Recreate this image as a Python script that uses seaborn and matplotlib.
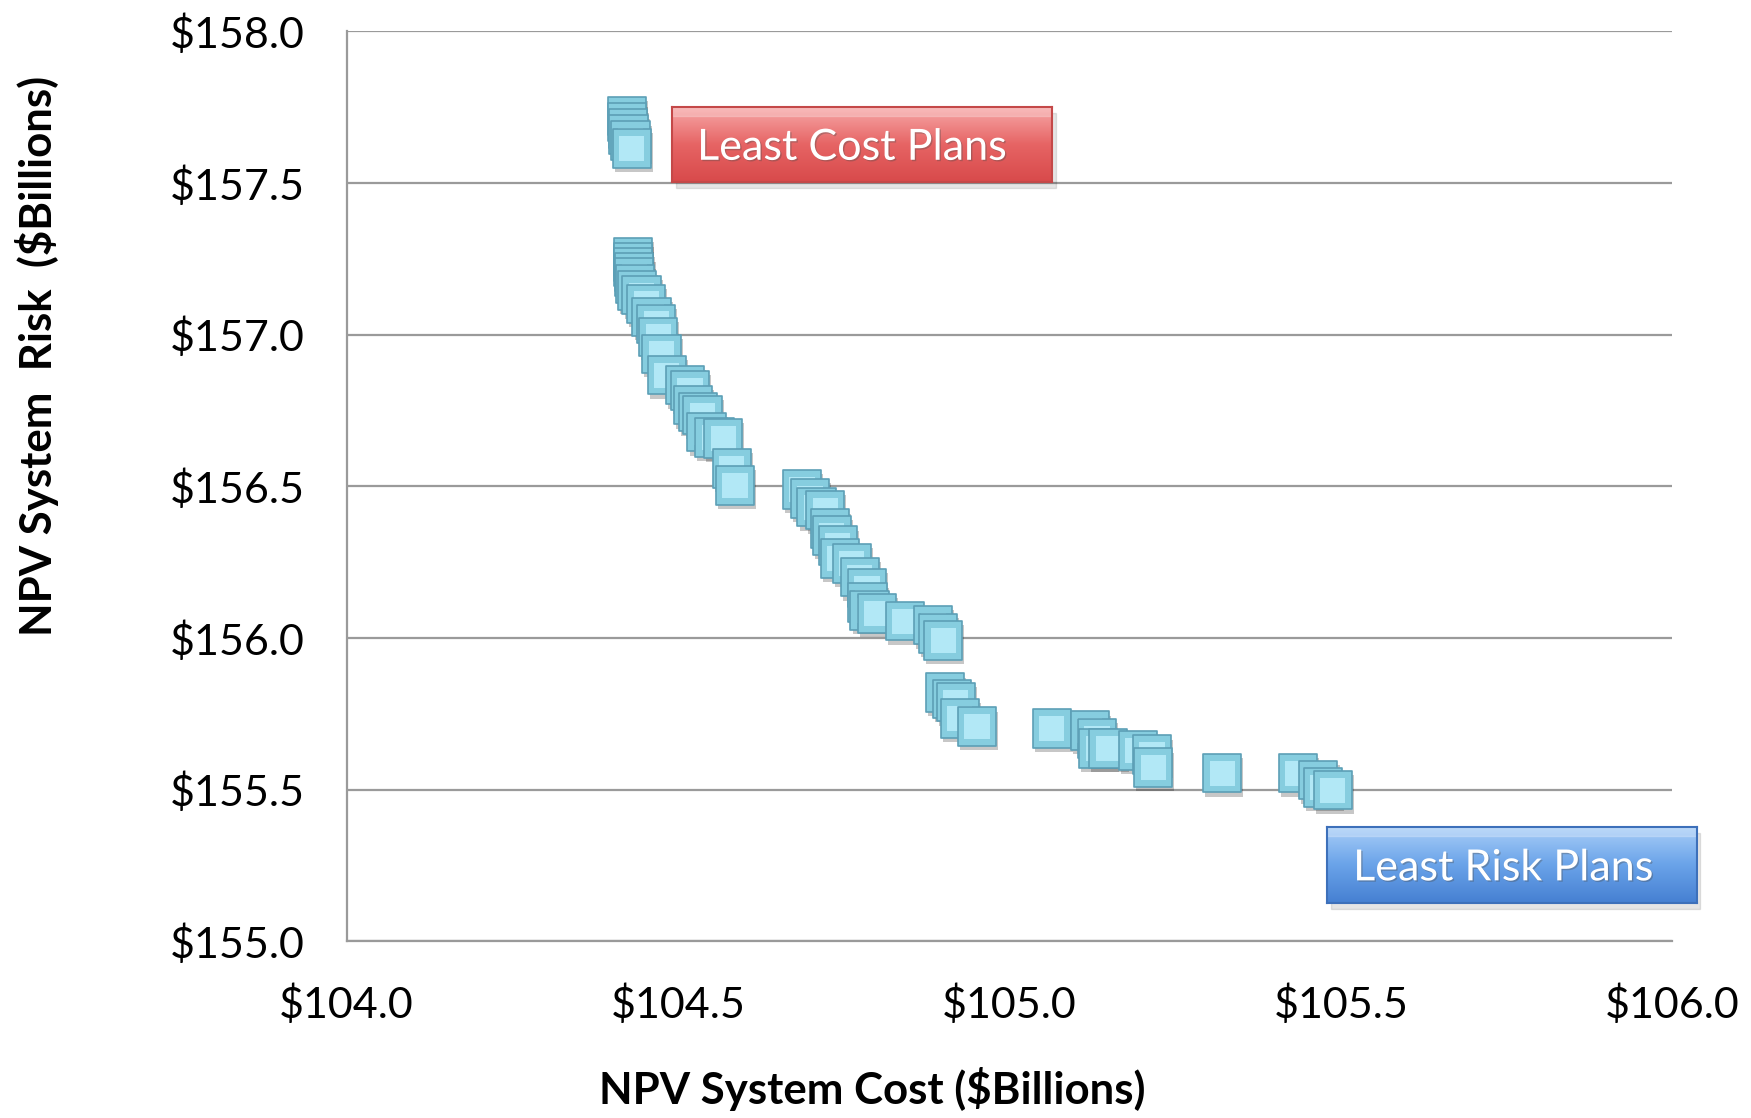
import numpy as np
import seaborn as sns
import matplotlib
matplotlib.use("Agg")
import matplotlib.pyplot as plt
import matplotlib.patheffects as pe
from matplotlib.patches import Rectangle
from matplotlib.colors import LinearSegmentedColormap

# NPV system cost / risk of each plan ($ billions)
cost = [104.423, 104.423, 104.424, 104.425, 104.428, 104.430,
        104.432, 104.432, 104.432, 104.433, 104.434, 104.435, 104.438,
        104.445, 104.452, 104.460, 104.467, 104.470, 104.475, 104.483,
        104.510, 104.518, 104.522, 104.530, 104.537, 104.543, 104.555,
        104.568, 104.581, 104.586,
        104.687, 104.699, 104.709, 104.722, 104.729, 104.732, 104.741,
        104.744, 104.762, 104.774, 104.785, 104.786, 104.789, 104.800,
        104.842, 104.885, 104.892, 104.900,
        104.903, 104.913, 104.919, 104.925, 104.951, 105.064, 105.121,
        105.132, 105.134, 105.149, 105.194, 105.215, 105.217, 105.321,
        105.435, 105.466, 105.473, 105.488]
risk = [157.720, 157.700, 157.680, 157.660, 157.640, 157.614,
        157.256, 157.240, 157.223, 157.207, 157.190, 157.168, 157.146,
        157.130, 157.102, 157.058, 157.036, 156.992, 156.937, 156.866,
        156.833, 156.816, 156.767, 156.744, 156.734, 156.678, 156.661,
        156.658, 156.559, 156.503,
        156.490, 156.460, 156.431, 156.421, 156.361, 156.338, 156.305,
        156.262, 156.246, 156.200, 156.164, 156.117, 156.091, 156.081,
        156.055, 156.042, 156.015, 155.992,
        155.820, 155.800, 155.788, 155.735, 155.708, 155.702, 155.695,
        155.669, 155.636, 155.636, 155.629, 155.616, 155.573, 155.554,
        155.554, 155.531, 155.507, 155.498]

x_ticks = [104.0, 104.5, 105.0, 105.5, 106.0]
y_ticks = [155.0, 155.5, 156.0, 156.5, 157.0, 157.5, 158.0]

sns.set_style("white")
plt.rcParams["font.family"] = ["Lato", "DejaVu Sans"]

fig = plt.figure(figsize=(17.51, 11.18), dpi=100)
ax = fig.add_axes([0.198, 0.158, 0.757, 0.814])

grid_c = "#9a9a9a"
ax.set_xlim(104.0, 106.0)
ax.set_ylim(155.0, 158.0)
ax.set_xticks(x_ticks)
ax.set_yticks(y_ticks)
ax.set_xticklabels([f"${v:.1f}" for v in x_ticks])
ax.set_yticklabels([f"${v:.1f}" for v in y_ticks])
ax.yaxis.grid(True, color=grid_c, linewidth=1.6)
ax.set_axisbelow(True)
for side in ["top", "right"]:
    ax.spines[side].set_visible(False)
for side in ["left", "bottom"]:
    ax.spines[side].set_color(grid_c)
    ax.spines[side].set_linewidth(1.6)
ax.tick_params(axis="both", direction="out", length=11, width=1.6,
               color=grid_c, labelsize=31, labelcolor="#000000")
ax.tick_params(axis="x", pad=20)
ax.tick_params(axis="y", pad=19)
ax.set_xlabel("")
ax.set_ylabel("")

# bevelled square markers, drawn one by one so later plans sit on top
shadow = [pe.SimplePatchShadow(offset=(1.5, -3), shadow_rgbFace="k", alpha=0.22),
          pe.Normal()]
for i, (cx, ry) in enumerate(zip(cost, risk)):
    z = 3 + i * 0.01
    sns.scatterplot(x=[cx], y=[ry], ax=ax, marker="s", s=760,
                    color="#86CDDF", edgecolor="#5C9FB6", linewidth=1.2,
                    zorder=z, path_effects=shadow, legend=False)
    sns.scatterplot(x=[cx], y=[ry], ax=ax, marker="s", s=330,
                    color="#B2E8F6", edgecolor="none", linewidth=0,
                    zorder=z + 0.005, legend=False)


def button(rect, c_top, c_mid, c_bot, edge, label, size, tx):
    x0, y0, w, h = rect
    fig.patches.append(Rectangle((x0 + 0.002, y0 - 0.005), w, h,
                                 transform=fig.transFigure, color="k",
                                 alpha=0.10, zorder=8))
    bax = fig.add_axes(rect, zorder=9)
    grad = np.linspace(0, 1, 200)[:, None]
    cmap = LinearSegmentedColormap.from_list("btn", [c_top, c_mid, c_bot])
    bax.imshow(grad, aspect="auto", cmap=cmap, extent=(0, 1, 0, 1),
               origin="upper")
    bax.axhspan(0.88, 1.0, color="white", alpha=0.22)
    bax.set_xlim(0, 1)
    bax.set_ylim(0, 1)
    bax.set_xticks([])
    bax.set_yticks([])
    for s in bax.spines.values():
        s.set_color(edge)
        s.set_linewidth(1.5)
    bax.text(tx, 0.46, label, color="white", fontsize=size, ha="left",
             va="center",
             path_effects=[pe.withSimplePatchShadow(offset=(1, -1),
                                                   alpha=0.35)])


button([0.384, 0.837, 0.217, 0.067], "#F7A7A7", "#E66464", "#D84A4B",
       "#C44848", "Least Cost Plans", 31, 0.065)
button([0.758, 0.192, 0.211, 0.068], "#AACFF8", "#6AA3E9", "#4680D2",
       "#3D70BA", "Least Risk Plans", 31, 0.07)

fig.text(0.498, 0.026, "NPV System Cost ($Billions)", fontsize=31.5,
         fontweight="bold", ha="center", va="center", color="#000000")
fig.text(0.021, 0.682, "NPV System  Risk  ($Billions)", fontsize=31.5,
         fontweight="bold", ha="center", va="center", rotation=90,
         color="#000000")

fig.savefig("out.png", dpi=100)
